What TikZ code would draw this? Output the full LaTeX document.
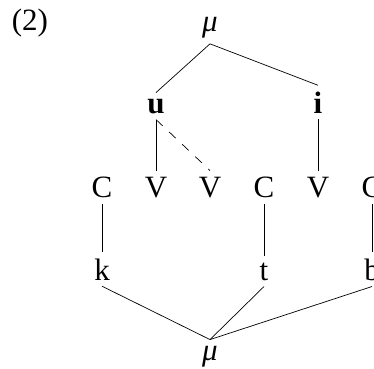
\documentclass[tikz,border=0pt]{standalone}
\usepackage{fontspec}
\setmainfont{Liberation Serif}
\newfontfamily\treefont{Liberation Serif}
\usetikzlibrary{positioning}

\begin{document}
\begin{tikzpicture}[x=1pt, y=-1pt,
  every node/.style={font=\treefont\fontsize{31}{34}\selectfont, inner sep=6pt, anchor=base},
  seg/.style={line width=0.7pt},
  link/.style={seg, dash pattern=on 9pt off 9pt}]
\useasboundingbox (0,0) rectangle (374,368);
\node (ex) at (30,30) {(2)};
% upper tier
\node (mutop) at (210,31) {\textit{μ}};
\node (u) at (156,113) {\textbf{u}};
\node (i) at (318,113) {\textbf{i}};
% skeleton
\node (c1) at (102,197) {C};
\node (v1) at (156,197) {V};
\node (v2) at (210,197) {V};
\node (c2) at (264,197) {C};
\node (v3) at (318,197) {V};
\node (c3) at (372,197) {C};
% segments
\node (k) at (102,280) {k};
\node (t) at (264,280) {t};
\node (b) at (372,280) {b};
\node (mubot) at (210,360) {\textit{μ}};
\draw[seg] (mutop.south) -- (u.north);
\draw[seg] (mutop.south) -- (i.north);
\draw[seg] (u.south) -- (v1.north);
\draw[link] (u.south) -- (v2.north);
\draw[seg] (i.south) -- (v3.north);
\draw[seg] (c1) -- (k);
\draw[seg] (c2) -- (t);
\draw[seg] (c3) -- (b);
\draw[seg] (k.south) -- (mubot.north);
\draw[seg] (t.south) -- (mubot.north);
\draw[seg] (b.south) -- (mubot.north);
\end{tikzpicture}
\end{document}
